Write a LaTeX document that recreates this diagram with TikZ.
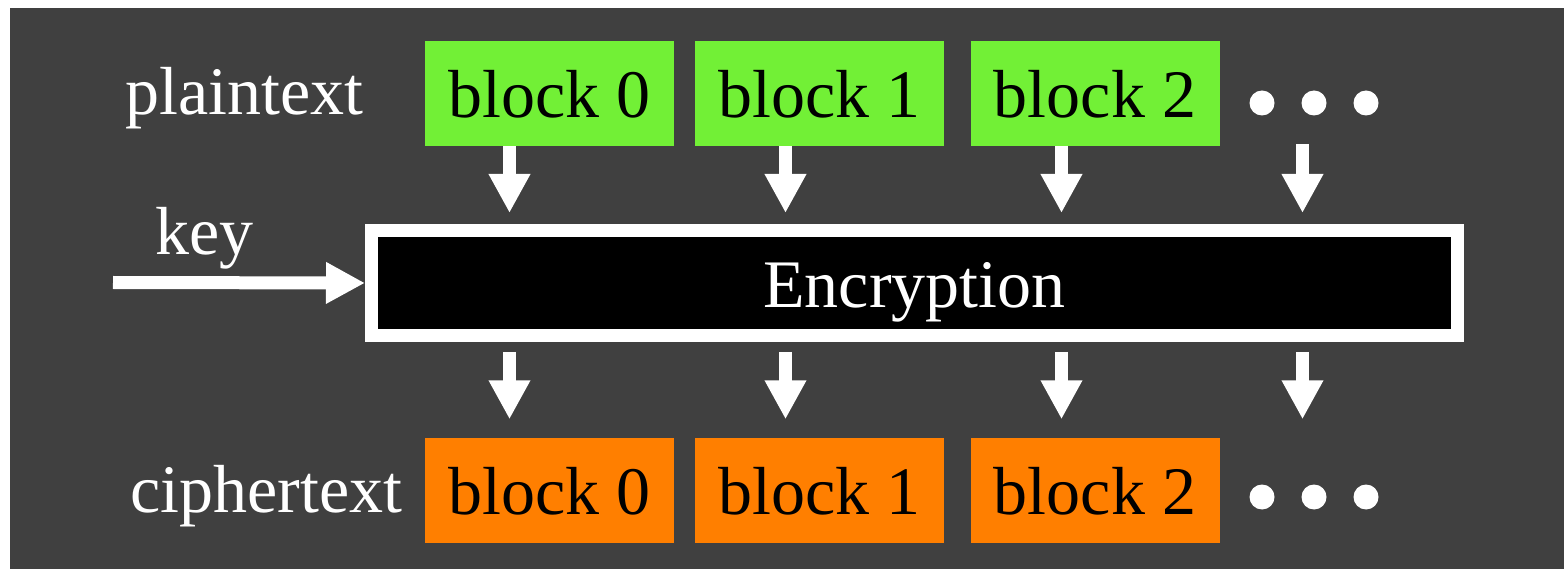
\documentclass[tikz,border=0pt]{standalone}
\usepackage{fontspec}
\setmainfont{Liberation Serif}
\usetikzlibrary{arrows.meta}
\definecolor{panel}{HTML}{404040}
\definecolor{plaingreen}{HTML}{72F036}
\definecolor{cipherorange}{HTML}{FF7F00}
\tikzset{
  bigfont/.style={font=\fontsize{68}{80}\selectfont},
  blockbox/.style={bigfont, text=black, minimum width=249pt, minimum height=105pt,
    inner sep=0pt, text height=49pt, text depth=0pt},
  plainblock/.style={blockbox, fill=plaingreen},
  cipherblock/.style={blockbox, fill=cipherorange},
  rowlabel/.style={bigfont, text=white, inner sep=0pt, anchor=base west},
  dot/.style={circle, fill=white, minimum size=25pt, inner sep=0pt},
  fatarrow/.style={draw=white, line width=13pt, line cap=butt,
    -{Triangle[width=39pt, length=39pt]}},
}
\begin{document}
\begin{tikzpicture}[x=1pt, y=-1pt]
  % page and dark panel
  \useasboundingbox (0,0) rectangle (1564,569);
  \fill[white] (0,0) rectangle (1564,569);
  \fill[panel] (10,8) rectangle (1564,569);

  % plaintext row
  \node[rowlabel] (plainlabel) at (125,115) {plaintext};
  \node[plainblock] (p0) at (549.5,93.5) {block 0};
  \node[plainblock] (p1) at (819.5,93.5) {block 1};
  \node[plainblock] (p2) at (1095,93.5) {block 2};
  \node[dot] (pd1) at (1262,103) {};
  \node[dot] (pd2) at (1314,103) {};
  \node[dot] (pd3) at (1366,103) {};

  % encryption stage
  \node[bigfont, draw=white, fill=black, text=white, line width=13pt,
    minimum width=1086pt, minimum height=105pt, inner sep=0pt,
    text height=50pt, text depth=0pt] (enc) at (914.5,283) {Encryption};

  % key input
  \node[rowlabel] (keylabel) at (155,255) {key};
  \coordinate (keystart) at (113,282.5);
  \draw[fatarrow] (keystart) -- (enc.west);

  % ciphertext row
  \node[rowlabel] (cipherlabel) at (130,512) {ciphertext};
  \node[cipherblock] (c0) at (549.5,490) {block 0};
  \node[cipherblock] (c1) at (819.5,490) {block 1};
  \node[cipherblock] (c2) at (1095,490) {block 2};
  \node[dot] (cd1) at (1262,497) {};
  \node[dot] (cd2) at (1314,497) {};
  \node[dot] (cd3) at (1366,497) {};

  % columns of the block arrows
  \coordinate (col0) at (509.5,0);
  \coordinate (col1) at (785.5,0);
  \coordinate (col2) at (1061.5,0);
  \coordinate (col3) at (1302.5,0);
  \coordinate (dotsbottom) at (1302.5,144);

  % plaintext blocks into the cipher
  \draw[fatarrow, shorten >=11pt] (col0 |- p0.south) -- (col0 |- enc.north);
  \draw[fatarrow, shorten >=11pt] (col1 |- p1.south) -- (col1 |- enc.north);
  \draw[fatarrow, shorten >=11pt] (col2 |- p2.south) -- (col2 |- enc.north);
  \draw[fatarrow, shorten >=11pt] (dotsbottom) -- (col3 |- enc.north);

  % cipher out to ciphertext blocks
  \draw[fatarrow, shorten <=10pt, shorten >=18pt] (col0 |- enc.south) -- (col0 |- c0.north);
  \draw[fatarrow, shorten <=10pt, shorten >=18pt] (col1 |- enc.south) -- (col1 |- c1.north);
  \draw[fatarrow, shorten <=10pt, shorten >=18pt] (col2 |- enc.south) -- (col2 |- c2.north);
  \draw[fatarrow, shorten <=10pt, shorten >=18pt] (col3 |- enc.south) -- (col3 |- c2.north);
\end{tikzpicture}
\end{document}
